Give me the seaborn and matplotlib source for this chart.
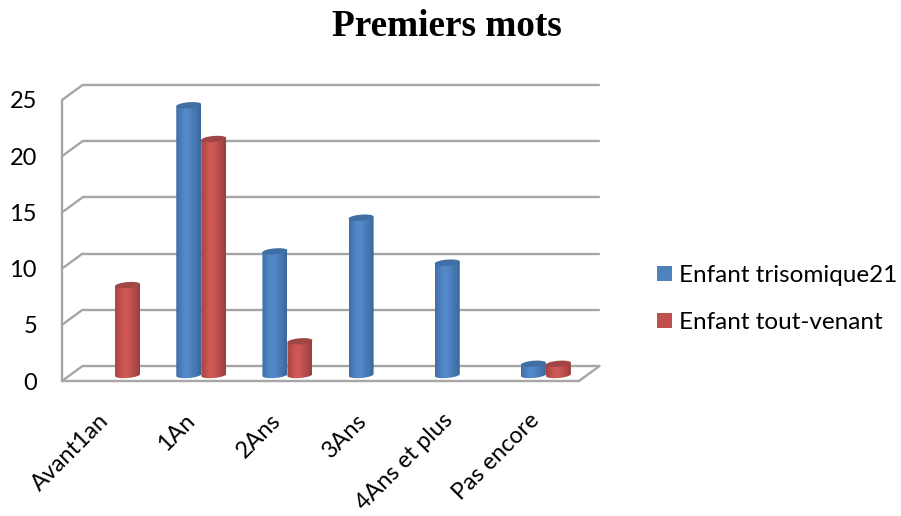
import numpy as np
import pandas as pd
import matplotlib
matplotlib.use("Agg")
import matplotlib.pyplot as plt
from matplotlib.colors import LinearSegmentedColormap
from matplotlib.patches import Polygon, PathPatch
from matplotlib.path import Path
from matplotlib.transforms import ScaledTranslation
import seaborn as sns

categories = ["Avant1an", "1An", "2Ans", "3Ans", "4Ans et plus", "Pas encore"]
trisomique = [0, 24, 11, 14, 10, 1]
tout_venant = [8, 21, 3, 0, 0, 1]
series_names = ["Enfant trisomique21", "Enfant tout-venant"]
y_ticks = [0, 5, 10, 15, 20, 25]
title = "Premiers mots"

W, H = 901, 516
sns.set_theme(style="white")
plt.rcParams["font.family"] = ["Lato", "DejaVu Sans"]

df = pd.DataFrame({
    "cat": categories * 2,
    "val": trisomique + tout_venant,
    "serie": [series_names[0]] * 6 + [series_names[1]] * 6,
})

fig = plt.figure(figsize=(W / 100, H / 100), dpi=100, facecolor="white")
L, R, T, B = 72, 589, 94, 375
ax = fig.add_axes([L / W, 1 - B / H, (R - L) / W, (B - T) / H])
ax.patch.set_alpha(0)
palette = {series_names[0]: "#4f81bd", series_names[1]: "#c0504d"}
sns.barplot(data=df, x="cat", y="val", hue="serie", order=categories,
            hue_order=series_names, palette=palette, width=0.58, gap=0,
            saturation=1, legend=False, ax=ax)
ax.set_xlim(-0.5, 5.5)
ax.set_ylim(0, 25)
ax.set_xlabel("")
ax.set_ylabel("")
for s in ax.spines.values():
    s.set_visible(False)

px_x = (R - L) / 6
px_y = (B - T) / 25
bx, by = 10.5 / px_x, 9 / px_y      # back wall shift
fx, fy = -10 / px_x, -6 / px_y       # front plane shift
x0, x1 = -0.5, 5.5
grid = "#a6a6a6"
lkw = dict(color=grid, lw=1.7, clip_on=False, zorder=1, solid_capstyle="round")
for v in y_ticks:
    ax.plot([x0 + bx, x1 + bx], [v + by, v + by], **lkw)
    ax.plot([x0 + fx, x0 + bx], [v + fy, v + by], **lkw)
ax.plot([x0 + fx, x0 + fx], [fy, 25 + fy], **lkw)
ax.plot([x0 + fx, x1 + fx], [fy, fy], **lkw)
ax.plot([x1 + fx, x1 + bx], [fy, by], **lkw)

cmaps = [
    LinearSegmentedColormap.from_list("b", ["#3f6ea6", "#4a7cb8", "#5289c9", "#5289c9", "#4a7cb8", "#4474ad", "#3a6698"]),
    LinearSegmentedColormap.from_list("r", ["#a34543", "#bb4e4c", "#cf5856", "#cf5856", "#bd4f4d", "#ac4846", "#963f3d"]),
]
tops = ["#3f6fa3", "#a04644"]
grad = np.linspace(0, 1, 64).reshape(1, -1)
ry = 3.0 / px_y
tilt = 1.0 / px_y
t = np.linspace(0, 2 * np.pi, 61)
for cont, cmap, top in zip(ax.containers, cmaps, tops):
    for p in cont:
        h = p.get_height()
        p.set_visible(False)
        if not h:
            continue
        x, w = p.get_x(), p.get_width()
        xs = x + w / 2 + w / 2 * np.cos(t)
        dy = ry * np.sin(t) + tilt * np.cos(t)
        low = t[:31]
        arc_x = x + w / 2 + w / 2 * np.cos(low)
        arc_y = -ry * np.sin(low) + tilt * np.cos(low)
        verts = [(x, h - tilt), (x + w, h + tilt)] + list(zip(arc_x, arc_y)) + [(x, h - tilt)]
        codes = [Path.MOVETO] + [Path.LINETO] * (len(verts) - 2) + [Path.CLOSEPOLY]
        clip = PathPatch(Path(verts, codes), transform=ax.transData, fc="none", ec="none")
        ax.add_patch(clip)
        im = ax.imshow(grad, cmap=cmap, extent=[x, x + w, -2 * ry, h + 2 * tilt], aspect="auto",
                       zorder=3, interpolation="bilinear")
        im.set_clip_path(clip)
        im.set_clip_box(fig.bbox)
        ax.add_patch(Polygon(np.column_stack([xs, h + dy]), closed=True, fc=top, ec="none",
                             zorder=4, clip_on=False))
ax.set_xlim(-0.5, 5.5)
ax.set_ylim(0, 25)

px = 72 / 100
fs = 17.5
ax.set_yticks(y_ticks)
ax.set_yticklabels([str(v) for v in y_ticks], fontsize=17, color="#000000")
ax.tick_params(axis="y", length=0, pad=35 * px)
ax.tick_params(axis="x", length=0, pad=42 * px)
for lab in ax.get_yticklabels():
    lab.set_transform(lab.get_transform() + ScaledTranslation(0, -6 / 100, fig.dpi_scale_trans))
ax.set_xticks(range(6))
ax.set_xticklabels(categories, fontsize=16.8, color="#000000", rotation=45,
                   ha="right", va="center", rotation_mode="anchor")
for lab in ax.get_xticklabels():
    lab.set_transform(lab.get_transform() + ScaledTranslation(-10 / 100, 0, fig.dpi_scale_trans))

fig.text(446.5 / W, 1 - 27 / H, title, family="Liberation Serif", weight="bold",
         fontsize=26.8, ha="center", va="center", color="black")

handles = [plt.Rectangle((0, 0), 1, 1, fc=palette[n], ec="none") for n in series_names]
fig.legend(handles, series_names, loc="upper left",
           bbox_to_anchor=(657 / W, 1 - 265 / H), frameon=False, borderpad=0, borderaxespad=0,
           fontsize=fs, handlelength=0.62, handleheight=0.62, handletextpad=0.3,
           labelspacing=1.07, labelcolor="#000000")

fig.savefig("out.png", dpi=100, facecolor="white")
